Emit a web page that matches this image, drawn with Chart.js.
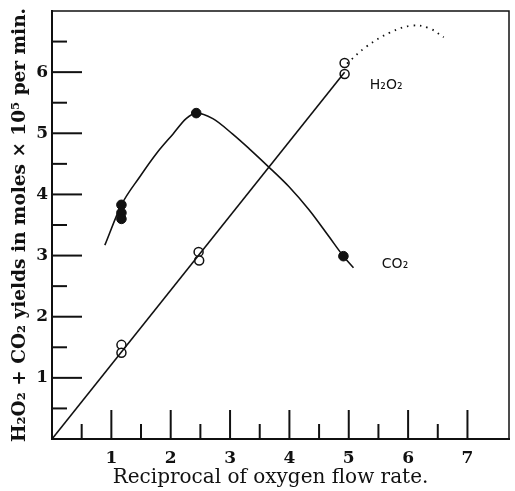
<!DOCTYPE html>
<html>
<head>
<meta charset="utf-8">
<script src="https://cdn.jsdelivr.net/npm/chart.js@4.4.1/dist/chart.umd.min.js"></script>
<style>
  html, body { margin: 0; padding: 0; background: #fff; }
  #wrap { width: 515px; height: 491px; }
</style>
</head>
<body>
<div id="wrap"><canvas id="chart" width="515" height="491"></canvas></div>
<script>
// values
const h2o2Points = [
    {x: 1.17, y: 1.54}, {x: 1.17, y: 1.41},
    {x: 2.47, y: 3.06}, {x: 2.48, y: 2.92},
    {x: 4.93, y: 6.15}, {x: 4.93, y: 5.97}
];
const co2Points = [
    {x: 1.17, y: 3.83}, {x: 1.17, y: 3.70}, {x: 1.17, y: 3.60},
    {x: 2.43, y: 5.33},
    {x: 4.91, y: 2.99}
];
// fitted straight line for H2O2
const h2o2Line = [{x: 0, y: 0}, {x: 4.93, y: 6.0}];
// dotted extrapolation beyond x = 5
const h2o2Dotted = [
    {x: 4.97, y: 6.14}, {x: 5.3, y: 6.42}, {x: 5.7, y: 6.65},
    {x: 6.06, y: 6.76}, {x: 6.35, y: 6.72}, {x: 6.6, y: 6.57}
];
// smooth curve through the CO2 points
const co2Curve = [
    {x: 0.89, y: 3.17}, {x: 1.17, y: 3.83}, {x: 1.48, y: 4.29}, {x: 1.76, y: 4.67},
    {x: 2.04, y: 4.99}, {x: 2.26, y: 5.24}, {x: 2.43, y: 5.33}, {x: 2.71, y: 5.24},
    {x: 3.04, y: 4.99}, {x: 3.32, y: 4.75}, {x: 3.64, y: 4.46}, {x: 3.99, y: 4.13},
    {x: 4.33, y: 3.75}, {x: 4.66, y: 3.32}, {x: 4.91, y: 2.99}, {x: 5.08, y: 2.80}
];
const xLabels = [1, 2, 3, 4, 5, 6, 7];
const yLabels = [1, 2, 3, 4, 5, 6];
const curveLabels = [
    {text: "H\u2082O\u2082", x: 5.63, y: 5.78},
    {text: "CO\u2082", x: 5.78, y: 2.86}
];

const serif = "'DejaVu Serif', 'Liberation Serif', serif";

// inward tick marks, frame and curve labels
const extras = {
    id: "extras",
    afterDraw(chart) {
        const ctx = chart.ctx;
        const a = chart.chartArea;
        const xs = chart.scales.x, ys = chart.scales.y;
        ctx.save();
        ctx.strokeStyle = "#111";
        ctx.lineWidth = 1.5;
        ctx.strokeRect(a.left, a.top, a.right - a.left, a.bottom - a.top);
        ctx.lineWidth = 2;
        xs.ticks.forEach(t => {
            if (t.value <= 0 || (t.value * 2) % 1 !== 0) return;
            const px = xs.getPixelForValue(t.value);
            const len = t.value % 1 === 0 ? 29 : 15;
            ctx.beginPath();
            ctx.moveTo(px, a.bottom);
            ctx.lineTo(px, a.bottom - len);
            ctx.stroke();
        });
        ys.ticks.forEach(t => {
            if (t.value <= 0 || t.value >= 7 || (t.value * 2) % 1 !== 0) return;
            const py = ys.getPixelForValue(t.value);
            const len = t.value % 1 === 0 ? 30 : 15;
            ctx.beginPath();
            ctx.moveTo(a.left, py);
            ctx.lineTo(a.left + len, py);
            ctx.stroke();
        });
        ctx.fillStyle = "#111";
        ctx.font = "14px 'DejaVu Sans', sans-serif";
        ctx.textAlign = "center";
        ctx.textBaseline = "middle";
        curveLabels.forEach(l => {
            ctx.fillText(l.text, xs.getPixelForValue(l.x), ys.getPixelForValue(l.y));
        });
        ctx.restore();
    }
};

new Chart(document.getElementById("chart"), {
    type: "scatter",
    data: {
        datasets: [
            {data: h2o2Line, showLine: true, borderColor: "#111", borderWidth: 1.6, pointRadius: 0},
            {data: h2o2Dotted, showLine: true, borderColor: "#111", borderWidth: 1.8, borderDash: [1.5, 5], tension: 0.4, pointRadius: 0},
            {data: co2Curve, showLine: true, borderColor: "#111", borderWidth: 1.6, cubicInterpolationMode: "monotone", pointRadius: 0},
            {data: h2o2Points, pointRadius: 4.5, pointBackgroundColor: "#fff", pointBorderColor: "#111", pointBorderWidth: 1.5},
            {data: co2Points, pointRadius: 4.8, pointBackgroundColor: "#111", pointBorderColor: "#111", pointBorderWidth: 1}
        ]
    },
    options: {
        responsive: false,
        animation: false,
        layout: {padding: {top: 11, right: -3, left: 0, bottom: 0}},
        plugins: {legend: {display: false}, tooltip: {enabled: false}},
        scales: {
            x: {
                type: "linear", min: 0, max: 7.7,
                afterFit: s => { s.height = 52; s.paddingLeft = 0; s.paddingRight = 0; },
                grid: {display: false, drawTicks: false},
                border: {display: true, color: "#111", width: 2},
                ticks: {
                    stepSize: 0.5, padding: 9, color: "#111",
                    font: {family: serif, size: 17, weight: "bold"},
                    callback: v => xLabels.includes(v) ? String(v) : ""
                },
                title: {
                    display: true, text: "Reciprocal of oxygen flow rate.\u2003", color: "#111",
                    font: {family: serif, size: 20, lineHeight: 1},
                    padding: {top: 0, bottom: 3}
                }
            },
            y: {
                type: "linear", min: 0, max: 7,
                afterFit: s => { s.width = 52; s.paddingTop = 0; s.paddingBottom = 0; },
                grid: {display: false, drawTicks: false},
                border: {display: true, color: "#111", width: 2},
                ticks: {
                    stepSize: 0.5, padding: 4, color: "#111",
                    font: {family: serif, size: 17, weight: "bold"},
                    callback: v => yLabels.includes(v) ? String(v) : ""
                },
                title: {
                    display: true, text: "H\u2082O\u2082 + CO\u2082 yields in moles \u00d7 10\u2075 per min.", color: "#111",
                    font: {family: serif, size: 18.5, lineHeight: 1, weight: "bold"},
                    padding: {top: 11, bottom: 0}
                }
            }
        }
    },
    plugins: [extras]
});
</script>
</body>
</html>
